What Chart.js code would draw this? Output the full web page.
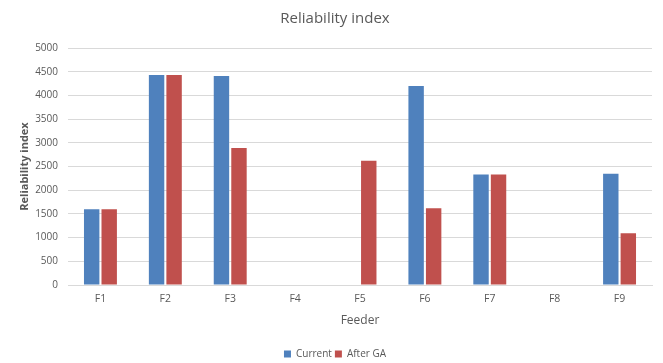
<!DOCTYPE html>
<html lang="en">
<head>
  <meta charset="UTF-8" />
  <title>Reliability index</title>
  <style>
    html, body { margin: 0; padding: 0; background: #fff; }
    #wrap { width: 663px; height: 363px; }
  </style>
</head>
<body>
  <div id="wrap"><canvas id="chart" width="663" height="363"></canvas></div>

  <script src="https://cdn.jsdelivr.net/npm/chart.js"></script>
  <script>
    const feeders = ["F1", "F2", "F3", "F4", "F5", "F6", "F7", "F8", "F9"];
    const current = [1600, 4430, 4410, 0, 0, 4200, 2330, 0, 2345];
    const afterGA = [1600, 4430, 2890, 0, 2620, 1620, 2330, 0, 1090];

    const grey = "#595959";
    const font = "'Open Sans', 'Liberation Sans', sans-serif";

    new Chart(document.getElementById("chart"), {
      type: "bar",
      data: {
        labels: feeders,
        datasets: [
          { label: "Current", data: current, backgroundColor: "#4F81BD" },
          { label: "After GA", data: afterGA, backgroundColor: "#C0504D" }
        ]
      },
      options: {
        responsive: false,
        animation: false,
        layout: { padding: { left: 18, right: 11, top: 4, bottom: -6 } },
        datasets: { bar: { categoryPercentage: 0.54, barPercentage: 0.88 } },
        plugins: {
          title: {
            display: true,
            text: "Reliability index",
            color: grey,
            font: { family: font, size: 15, weight: "normal" },
            padding: { top: 6, bottom: 20 }
          },
          legend: {
            position: "bottom",
            labels: {
              color: grey,
              font: { family: font, size: 10 },
              boxWidth: 7,
              boxHeight: 7,
              padding: 3
            }
          },
          tooltip: { enabled: false }
        },
        scales: {
          x: {
            grid: { display: false },
            border: { color: "#d9d9d9" },
            ticks: { color: grey, font: { family: font, size: 10.5 }, padding: 0 },
            title: {
              display: true,
              text: "Feeder",
              color: grey,
              font: { family: font, size: 12 },
              padding: { top: 8, bottom: 18 }
            }
          },
          y: {
            min: 0,
            max: 5000,
            ticks: {
              stepSize: 500,
              color: grey,
              font: { family: font, size: 10 },
              padding: 10,
              callback: v => String(v)
            },
            grid: { color: "#d9d9d9", drawTicks: false },
            border: { display: false },
            title: {
              display: true,
              text: "Reliability index",
              color: grey,
              font: { family: font, size: 11, weight: "bold" },
              padding: { top: 0, bottom: 0 }
            },
            afterFit: function (scale) { scale.width = 50; }
          }
        }
      }
    });
  </script>
</body>
</html>
